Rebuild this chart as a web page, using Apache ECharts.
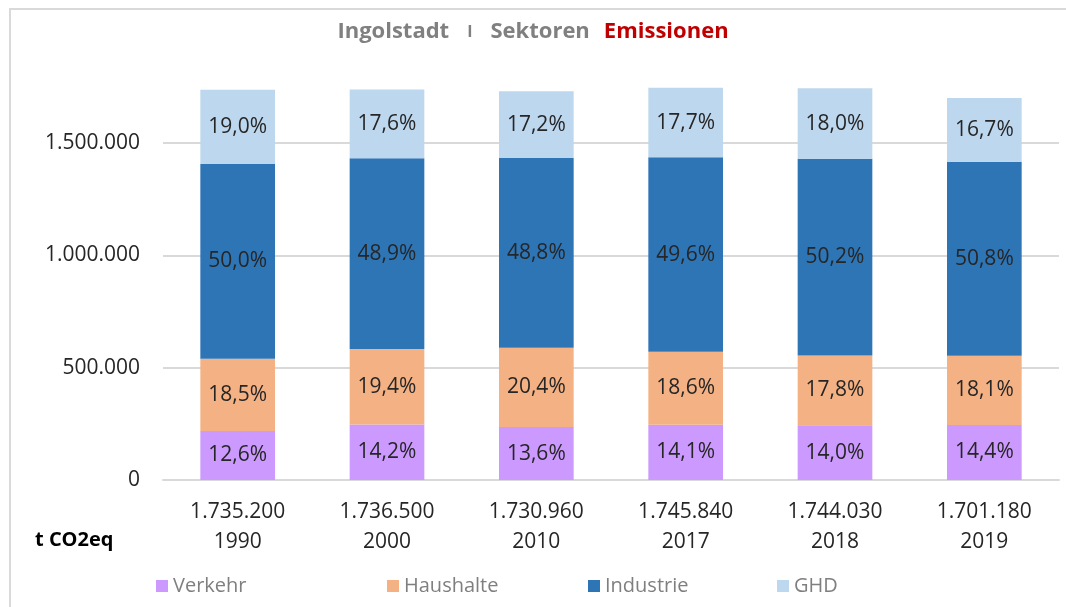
<!DOCTYPE html>
<html>
<head>
<meta charset="utf-8">
<script src="https://cdn.jsdelivr.net/npm/echarts@6/dist/echarts.min.js"></script>
<style>
  html, body { margin: 0; padding: 0; background: #fff; }
  #chart { width: 1066px; height: 607px; }
</style>
</head>
<body>
<div id="chart"></div>
<script>
var years = ['1990', '2000', '2010', '2017', '2018', '2019'];
var totals = [1735200, 1736500, 1730960, 1745840, 1744030, 1701180];
var sectors = ['Verkehr', 'Haushalte', 'Industrie', 'GHD'];
var shareVerkehr = [12.6, 14.2, 13.6, 14.1, 14.0, 14.4];
var shareHaushalte = [18.5, 19.4, 20.4, 18.6, 17.8, 18.1];
var shareIndustrie = [50.0, 48.9, 48.8, 49.6, 50.2, 50.8];
var shareGHD = [19.0, 17.6, 17.2, 17.7, 18.0, 16.7];
var yTicks = [0, 500000, 1000000, 1500000];

var colors = ['#cc99ff', '#f4b183', '#2e75b6', '#bdd7ee'];
var shares = [shareVerkehr, shareHaushalte, shareIndustrie, shareGHD];
var font = 'Open Sans';

function fmt(n) {
    return String(n).replace(/\B(?=(\d{3})+(?!\d))/g, '.');
}

var myChart = echarts.init(document.getElementById('chart'));

var series = sectors.map(function (name, s) {
    return {
        name: name,
        type: 'bar',
        stack: 'total',
        barWidth: '50%',
        itemStyle: { color: colors[s] },
        label: {
            show: true,
            position: 'inside',
            color: '#262626',
            fontFamily: font,
            fontSize: 21,
            formatter: function (p) {
                return shares[s][p.dataIndex].toFixed(1).replace('.', ',') + '%';
            }
        },
        data: totals.map(function (t, i) {
            return Math.round(t * shares[s][i] / 100);
        })
    };
});

var legends = [151, 382, 583, 772].map(function (x, i) {
    return {
        data: [sectors[i]],
        left: x,
        top: 571,
        icon: 'rect',
        itemWidth: 12,
        itemHeight: 12,
        itemGap: 8,
        textStyle: { color: '#7f7f7f', fontFamily: font, fontSize: 20 }
    };
});

var option = {
    backgroundColor: '#fff',
    animation: false,
    title: {
        text: '{g|Ingolstadt}{s|I}{g|Sektoren}{r|Emissionen}',
        left: 'center',
        top: 16,
        textStyle: {
            rich: {
                g: { color: '#808080', fontFamily: font, fontSize: 22, fontWeight: 'bold' },
                s: { color: '#808080', fontFamily: font, fontSize: 16, padding: [0, 18, 0, 18] },
                r: { color: '#c00000', fontFamily: font, fontSize: 22, fontWeight: 'bold', padding: [0, 0, 0, 14] }
            }
        }
    },
    graphic: [
        {
            type: 'rect',
            shape: { x: 10, y: 9, width: 1080, height: 620 },
            style: { fill: 'none', stroke: '#d9d9d9', lineWidth: 2 },
            silent: true
        },
        {
            type: 'text',
            left: 35,
            top: 530,
            style: { text: 't CO2eq', fill: '#000', font: 'bold 20px "Open Sans"' }
        }
    ],
    legend: legends,
    grid: { left: 163, right: 7, top: 75.7, bottom: 127, containLabel: false },
    xAxis: {
        type: 'category',
        data: years,
        axisLine: { lineStyle: { color: '#d9d9d9', width: 2 } },
        axisTick: { show: false },
        axisLabel: {
            margin: 17,
            lineHeight: 30,
            color: '#262626',
            fontFamily: font,
            fontSize: 21,
            formatter: function (v, i) {
                return fmt(totals[i]) + '\n' + v;
            }
        }
    },
    yAxis: {
        type: 'value',
        min: yTicks[0],
        max: 1800000,
        interval: yTicks[1] - yTicks[0],
        axisLine: { show: false },
        axisTick: { show: false },
        splitLine: { showMaxLine: false, lineStyle: { color: '#d9d9d9', width: 2 } },
        axisLabel: {
            margin: 23,
            showMaxLabel: false,
            color: '#262626',
            fontFamily: font,
            fontSize: 21,
            formatter: function (v) {
                return yTicks.indexOf(v) >= 0 ? fmt(v) : '';
            }
        }
    },
    series: series
};

myChart.setOption(option);
</script>
</body>
</html>
